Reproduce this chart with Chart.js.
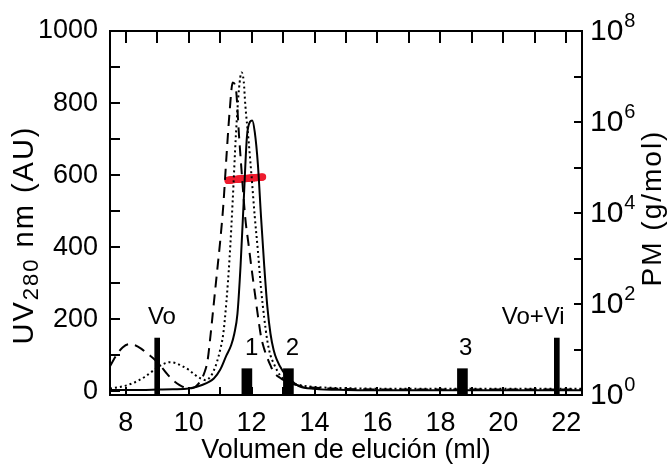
<!DOCTYPE html>
<html>
<head>
<meta charset="utf-8">
<script src="https://cdn.jsdelivr.net/npm/chart.js@4/dist/chart.umd.min.js"></script>
<style>
  html, body { margin: 0; padding: 0; background: #fff; }
  #wrap { width: 671px; height: 464px; }
</style>
</head>
<body>
<div id="wrap"><canvas id="c" width="671" height="464"></canvas></div>
<script>
const FONT = '"Liberation Sans", Arial, Helvetica, sans-serif';

// Axis ticks
const xTicks = [8, 10, 12, 14, 16, 18, 20, 22];
const uvTicks = [0, 200, 400, 600, 800, 1000];
const pmExponents = [0, 2, 4, 6, 8];

// UV 280 nm traces (elution volume in ml, absorbance in AU)
const dashedX = [7.5,7.7,7.9,8.1,8.3,8.5,8.7,8.9,9.1,9.3,9.5,9.7,9.9,10.1,10.3,10.5,10.6,10.7,10.8,10.9,11.0,11.1,11.2,11.3,11.4,11.5,11.6,11.7,11.8,11.9,12.0,12.1,12.2,12.3,12.4,12.5,12.6,12.7,12.9,13.1,13.4,13.8,14.5,15.5,17,19,21,22.5];
const dashedY = [70,100,122,131,128,118,104,90,72,50,31,18,10,9,20,52,85,160,245,330,415,515,650,775,857,840,710,590,480,410,340,275,210,152,118,93,72,54,38,28,18,12,8,6,5,5,5,5];

const dottedX = [7.5,7.8,8.0,8.2,8.4,8.6,8.8,9.0,9.2,9.4,9.6,9.8,10.0,10.2,10.4,10.55,10.7,10.8,10.9,11.0,11.1,11.2,11.3,11.4,11.5,11.6,11.68,11.75,11.8,11.9,12.0,12.1,12.2,12.3,12.4,12.5,12.6,12.7,12.9,13.1,13.4,13.8,14.5,15.5,17,19,21,22.5];
const dottedY = [8,12,16,22,30,40,53,66,76,81,78,70,60,46,35,31,42,58,82,115,160,250,370,530,710,840,885,860,795,700,595,485,390,285,205,140,100,78,45,28,20,14,10,8,7,7,7,7];

const solidX = [7.5,8.0,8.5,9.0,9.5,10.0,10.4,10.8,11.0,11.2,11.35,11.45,11.55,11.65,11.75,11.85,11.95,12.02,12.1,12.2,12.3,12.4,12.5,12.6,12.7,12.8,13.0,13.2,13.5,14.0,15.0,17,19,21,22.5];
const solidY = [4,4,4,5,6,8,17,36,60,100,128,160,215,350,530,705,748,752,720,630,484,350,235,160,115,88,55,35,15,7,4,3,3,3,3];

// Calibration markers: void volume (Vo), total volume (Vo+Vi) and standards 1-3
const voidX = [9.0, 21.7];
const voidY = [148, 148];
const standardX = [11.85, 13.17, 18.7];
const standardY = [63, 63, 63];
const markerText = ['Vo', '1', '2', '3', 'Vo+Vi'];
const markerTextX = [9.15, 12.0, 13.3, 18.8, 20.95];
const markerTextY = [205, 120, 120, 120, 205];

// Molar mass across the peak (g/mol)
const pmX = [11.25,11.275,11.3,11.325,11.35,11.375,11.4,11.425,11.45,11.475,11.5,11.525,11.55,11.575,11.6,11.625,11.65,11.675,11.7,11.725,11.75,11.775,11.8,11.825,11.85,11.875,11.9,11.925,11.95,11.975,12.0,12.025,12.05,12.075,12.1,12.125,12.15,12.175,12.2,12.225,12.25,12.275,12.3,12.325,12.35];
const pmY = [5.2e4,5.3e4,5.25e4,5.35e4,5.3e4,5.4e4,5.35e4,5.45e4,5.4e4,5.5e4,5.45e4,5.5e4,5.55e4,5.5e4,5.6e4,5.55e4,5.6e4,5.65e4,5.6e4,5.7e4,5.65e4,5.7e4,5.75e4,5.7e4,5.8e4,5.75e4,5.8e4,5.85e4,5.8e4,5.9e4,5.85e4,5.9e4,5.95e4,5.9e4,6.0e4,5.95e4,6.0e4,6.05e4,6.0e4,6.1e4,6.05e4,6.1e4,6.15e4,6.1e4,6.2e4];

const pts = (xs, ys) => xs.map((x, i) => ({ x, y: ys[i] }));

const trace = (xs, ys, dash) => ({
  type: 'line',
  data: pts(xs, ys),
  borderColor: '#000',
  borderWidth: 2,
  borderDash: dash,
  pointRadius: 0,
  fill: false,
  cubicInterpolationMode: 'monotone',
  yAxisID: 'y'
});

// Frame, inward ticks, log-axis labels, axis titles and marker labels
const decorations = {
  id: 'decorations',
  afterDatasetsDraw(chart) {
    const { ctx, chartArea: a, scales } = chart;
    const sx = scales.x, sy = scales.y, s2 = scales.y2;
    ctx.save();
    ctx.strokeStyle = '#000';
    ctx.fillStyle = '#000';
    ctx.lineWidth = 2;

    ctx.beginPath();
    for (let v = 8; v <= 22; v++) {
      const px = Math.round(sx.getPixelForValue(v));
      ctx.moveTo(px, a.top); ctx.lineTo(px, a.top + 12);
      ctx.moveTo(px, a.bottom); ctx.lineTo(px, a.bottom - 8);
    }
    for (let v = 0; v <= 1000; v += 100) {
      const py = Math.round(sy.getPixelForValue(v));
      ctx.moveTo(a.left, py); ctx.lineTo(a.left + 10, py);
    }
    for (let e = 0; e <= 8; e++) {
      const py = Math.round(s2.getPixelForValue(Math.pow(10, e)));
      ctx.moveTo(a.right, py); ctx.lineTo(a.right - 8, py);
    }
    ctx.stroke();
    ctx.strokeRect(a.left, a.top, a.right - a.left, a.bottom - a.top);

    // right axis: powers of ten
    ctx.textBaseline = 'middle';
    ctx.textAlign = 'left';
    pmExponents.forEach(e => {
      const py = s2.getPixelForValue(Math.pow(10, e));
      ctx.font = '30px ' + FONT;
      ctx.fillText('10', a.right + 8, py + 1);
      const w = ctx.measureText('10').width;
      ctx.font = '20px ' + FONT;
      ctx.fillText(String(e), a.right + 8 + w + 1, py - 10);
    });

    // left title with subscript
    ctx.save();
    ctx.translate(25, 235);
    ctx.rotate(-Math.PI / 2);
    ctx.letterSpacing = '2px';
    const parts = [['UV', 29, 0], ['280', 22, 7], [' nm (AU)', 29, 0]];
    let total = 0;
    parts.forEach(p => { ctx.font = p[1] + 'px ' + FONT; total += ctx.measureText(p[0]).width; });
    let cx = -total / 2;
    parts.forEach(p => {
      ctx.font = p[1] + 'px ' + FONT;
      ctx.fillText(p[0], cx, p[2]);
      cx += ctx.measureText(p[0]).width;
    });
    ctx.restore();

    // right title
    ctx.save();
    ctx.translate(653, 208);
    ctx.rotate(-Math.PI / 2);
    ctx.letterSpacing = '2px';
    ctx.textAlign = 'center';
    ctx.font = '28px ' + FONT;
    ctx.fillText('PM (g/mol)', 0, 0);
    ctx.restore();

    // marker labels
    ctx.font = '24px ' + FONT;
    ctx.textAlign = 'center';
    markerText.forEach((t, i) => {
      ctx.fillText(t, sx.getPixelForValue(markerTextX[i]), sy.getPixelForValue(markerTextY[i]));
    });
    ctx.restore();
  }
};

new Chart(document.getElementById('c'), {
  type: 'line',
  data: {
    datasets: [
      trace(dashedX, dashedY, [11, 7]),
      trace(dottedX, dottedY, [2, 3]),
      trace(solidX, solidY, []),
      {
        type: 'bar', data: pts(voidX, voidY), backgroundColor: '#000',
        barThickness: 5, base: -10, grouped: false, yAxisID: 'y'
      },
      {
        type: 'bar', data: pts(standardX, standardY), backgroundColor: '#000',
        barThickness: 10, base: -10, grouped: false, yAxisID: 'y'
      },
      {
        type: 'line', data: pts(pmX, pmY), showLine: false, yAxisID: 'y2',
        pointRadius: 3.6, pointBorderWidth: 0, pointBackgroundColor: '#ee1c2e',
        pointBorderColor: '#ee1c2e'
      }
    ]
  },
  options: {
    responsive: false,
    animation: false,
    devicePixelRatio: 1,
    layout: { padding: { top: 31, left: 0, right: 0, bottom: 0 } },
    plugins: { legend: { display: false }, tooltip: { enabled: false } },
    scales: {
      x: {
        type: 'linear', min: 7.5, max: 22.5, offset: false,
        grid: { display: false, drawTicks: false }, border: { display: false },
        ticks: { font: { family: FONT, size: 27 }, color: '#000', padding: 12, maxRotation: 0, autoSkip: false,
                 callback: v => String(v) },
        afterBuildTicks: s => { s.ticks = xTicks.map(v => ({ value: v })); },
        afterFit: s => { s.height = 69; },
        title: { display: true, text: 'Volumen de elución (ml)', color: '#000',
                 font: { family: FONT, size: 27 }, padding: { top: 0, bottom: -3 } }
      },
      y: {
        type: 'linear', position: 'left', min: -10, max: 1000,
        grid: { display: false, drawTicks: false }, border: { display: false },
        ticks: { font: { family: FONT, size: 27 }, color: '#000', padding: 12,
                 callback: v => String(v) },
        afterBuildTicks: s => { s.ticks = uvTicks.map(v => ({ value: v })); },
        afterFit: s => { s.width = 110; }
      },
      y2: {
        type: 'logarithmic', position: 'right', min: 1, max: 1e8,
        grid: { display: false, drawTicks: false }, border: { display: false },
        ticks: { display: false },
        afterFit: s => { s.width = 89; }
      }
    }
  },
  plugins: [decorations]
});
</script>
</body>
</html>
